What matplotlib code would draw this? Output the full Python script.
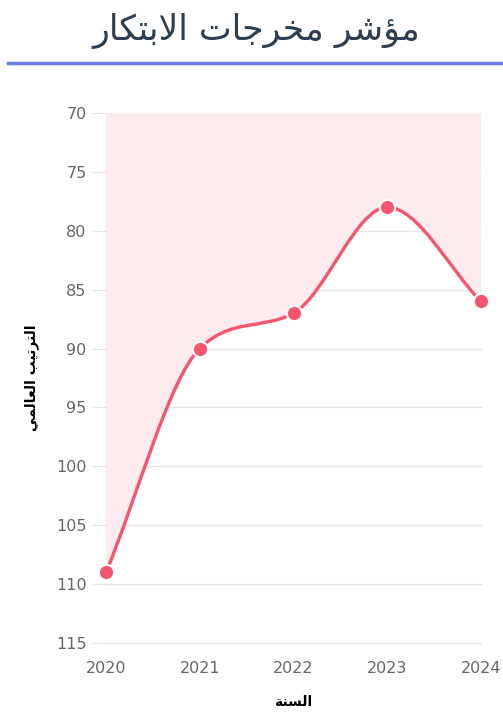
import numpy as np
import matplotlib.pyplot as plt
from matplotlib.path import Path
from matplotlib.patches import PathPatch
from matplotlib.lines import Line2D

years = [2020, 2021, 2022, 2023, 2024]
rank = [109, 90, 87, 78, 86]
y_ticks = [70, 75, 80, 85, 90, 95, 100, 105, 110, 115]

title_txt = "مؤشر مخرجات الابتكار"
ylabel_txt = "الترتيب العالمي"
xlabel_txt = "السنة"

# arabic shaping by hand (matplotlib does not shape arabic)
FORMS = {
    'ا': (0xFE8D, 0xFE8E, None, None),
    'ب': (0xFE8F, 0xFE90, 0xFE91, 0xFE92),
    'ت': (0xFE95, 0xFE96, 0xFE97, 0xFE98),
    'ة': (0xFE93, 0xFE94, None, None),
    'ج': (0xFE9D, 0xFE9E, 0xFE9F, 0xFEA0),
    'خ': (0xFEA5, 0xFEA6, 0xFEA7, 0xFEA8),
    'ر': (0xFEAD, 0xFEAE, None, None),
    'س': (0xFEB1, 0xFEB2, 0xFEB3, 0xFEB4),
    'ش': (0xFEB5, 0xFEB6, 0xFEB7, 0xFEB8),
    'ع': (0xFEC9, 0xFECA, 0xFECB, 0xFECC),
    'ك': (0xFED9, 0xFEDA, 0xFEDB, 0xFEDC),
    'ل': (0xFEDD, 0xFEDE, 0xFEDF, 0xFEE0),
    'م': (0xFEE1, 0xFEE2, 0xFEE3, 0xFEE4),
    'ن': (0xFEE5, 0xFEE6, 0xFEE7, 0xFEE8),
    'ي': (0xFEF1, 0xFEF2, 0xFEF3, 0xFEF4),
    'ؤ': (0xFE85, 0xFE86, None, None),
    'لا': (0xFEFB, 0xFEFC, None, None),
}


def shape(text):
    out = []
    for word in text.split(' '):
        units = []
        i = 0
        while i < len(word):
            if word[i] == 'ل' and i + 1 < len(word) and word[i + 1] == 'ا':
                units.append('لا')
                i += 2
            else:
                units.append(word[i])
                i += 1
        glyphs = []
        for k, u in enumerate(units):
            f = FORMS[u]
            prev_join = k > 0 and FORMS[units[k - 1]][2] is not None
            next_join = k + 1 < len(units) and f[2] is not None
            if prev_join and next_join:
                g = f[3]
            elif prev_join:
                g = f[1]
            elif next_join:
                g = f[2]
            else:
                g = f[0]
            glyphs.append(chr(g))
        out.append(''.join(glyphs))
    return ' '.join(out)[::-1]


def monotone_path(xs, ys):
    # chart.js style monotone cubic interpolation
    xs = np.asarray(xs, float)
    ys = np.asarray(ys, float)
    n = len(xs)
    delta = np.diff(ys) / np.diff(xs)
    m = np.zeros(n)
    m[0] = delta[0]
    m[-1] = delta[-1]
    for i in range(1, n - 1):
        if np.sign(delta[i - 1]) != np.sign(delta[i]):
            m[i] = 0
        else:
            m[i] = (delta[i - 1] + delta[i]) / 2
    for i in range(n - 1):
        if delta[i] == 0:
            m[i] = m[i + 1] = 0
            continue
        a = m[i] / delta[i]
        b = m[i + 1] / delta[i]
        sq = a * a + b * b
        if sq > 9:
            tau = 3 / np.sqrt(sq)
            m[i] = a * tau * delta[i]
            m[i + 1] = b * tau * delta[i]
    verts = [(xs[0], ys[0])]
    codes = [Path.MOVETO]
    for i in range(n - 1):
        dx = (xs[i + 1] - xs[i]) / 3
        verts += [(xs[i] + dx, ys[i] + dx * m[i]),
                  (xs[i + 1] - dx, ys[i + 1] - dx * m[i + 1]),
                  (xs[i + 1], ys[i + 1])]
        codes += [Path.CURVE4] * 3
    return verts, codes


plt.rcParams['font.family'] = ['DejaVu Sans']

fig = plt.figure(figsize=(5.03, 7.18), dpi=100)
ax = fig.add_axes([106 / 503, 1 - 643 / 718, 375 / 503, 530 / 718])

ax.set_xlim(2020, 2024)
ax.set_ylim(115, 70)
ax.set_yticks(y_ticks)
ax.set_xticks(years)
for v in y_ticks:
    ax.axhline(v, color='#e6e6e6', linewidth=1, zorder=0, clip_on=False)
for s in ax.spines.values():
    s.set_visible(False)
ax.tick_params(axis='y', length=10, color='#e6e6e6', pad=4, labelsize=11.5, labelcolor='#666666')
ax.tick_params(axis='x', length=0, pad=13, labelsize=11.5, labelcolor='#666666')

verts, codes = monotone_path(years, rank)
fill_verts = verts + [(years[-1], 70), (years[0], 70), verts[0]]
fill_codes = codes + [Path.LINETO, Path.LINETO, Path.CLOSEPOLY]
ax.add_patch(PathPatch(Path(fill_verts, fill_codes), facecolor='#fdebee', edgecolor='none', zorder=1))
ax.add_patch(PathPatch(Path(verts, codes), facecolor='none', edgecolor='#f5566f', linewidth=2.4,
                       zorder=3, capstyle='round'))
ax.plot(years, rank, 'o', color='#f5566f', markersize=11, markeredgecolor='white',
        markeredgewidth=1.5, zorder=4, clip_on=False)

ax.set_ylabel(shape(ylabel_txt), fontsize=10, fontweight='bold', color='black', labelpad=12)
ax.set_xlabel(shape(xlabel_txt), fontsize=10, fontweight='bold', color='black', labelpad=14)

fig.text(0.51, 1 - 31 / 718, shape(title_txt), ha='center', va='center', fontsize=25, color='#2c3e50')
fig.add_artist(Line2D([8 / 503, 1], [1 - 63 / 718] * 2, color='#6a80e6', linewidth=2.5))

fig.savefig('out.png', dpi=100)
